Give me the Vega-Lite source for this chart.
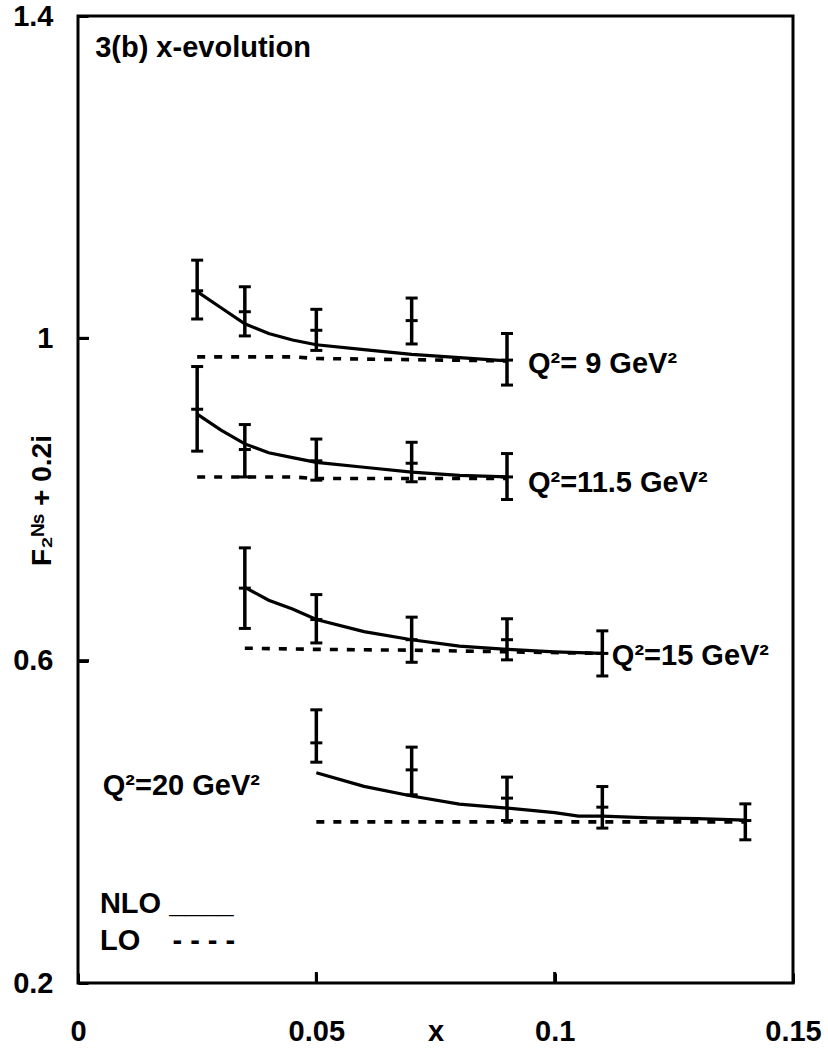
{
  "$schema": "https://vega.github.io/schema/vega-lite/v6.json",
  "width": 715,
  "height": 967,
  "autosize": {"type": "none"},
  "padding": {"left": 78, "top": 16, "right": 35, "bottom": 68},
  "background": "white",
  "config": {
    "view": {"stroke": "black", "strokeWidth": 3},
    "font": "Liberation Sans",
    "axis": {"grid": false, "domain": false, "labelColor": "black", "titleColor": "black", "tickColor": "black", "zindex": 1}
  },
  "datasets": {
    "pts": [
      {"q": "9", "x": 0.025, "y": 1.059, "lo": 1.024, "hi": 1.097},
      {"q": "9", "x": 0.035, "y": 1.033, "lo": 1.003, "hi": 1.064},
      {"q": "9", "x": 0.05, "y": 1.010, "lo": 0.985, "hi": 1.036},
      {"q": "9", "x": 0.07, "y": 1.022, "lo": 0.993, "hi": 1.050},
      {"q": "9", "x": 0.09, "y": 0.973, "lo": 0.942, "hi": 1.006},
      {"q": "11.5", "x": 0.025, "y": 0.912, "lo": 0.860, "hi": 0.965},
      {"q": "11.5", "x": 0.035, "y": 0.862, "lo": 0.828, "hi": 0.893},
      {"q": "11.5", "x": 0.05, "y": 0.848, "lo": 0.824, "hi": 0.875},
      {"q": "11.5", "x": 0.07, "y": 0.845, "lo": 0.822, "hi": 0.871},
      {"q": "11.5", "x": 0.09, "y": 0.828, "lo": 0.800, "hi": 0.857},
      {"q": "15", "x": 0.035, "y": 0.690, "lo": 0.640, "hi": 0.740},
      {"q": "15", "x": 0.05, "y": 0.651, "lo": 0.622, "hi": 0.682},
      {"q": "15", "x": 0.07, "y": 0.626, "lo": 0.598, "hi": 0.654},
      {"q": "15", "x": 0.09, "y": 0.626, "lo": 0.601, "hi": 0.652},
      {"q": "15", "x": 0.11, "y": 0.609, "lo": 0.581, "hi": 0.637},
      {"q": "20", "x": 0.05, "y": 0.498, "lo": 0.474, "hi": 0.539},
      {"q": "20", "x": 0.07, "y": 0.4645, "lo": 0.4335, "hi": 0.4927},
      {"q": "20", "x": 0.09, "y": 0.4294, "lo": 0.4016, "hi": 0.4555},
      {"q": "20", "x": 0.11, "y": 0.4182, "lo": 0.3922, "hi": 0.4438},
      {"q": "20", "x": 0.14, "y": 0.4016, "lo": 0.3777, "hi": 0.4223}
    ],
    "nlo": [
      {"q": "9", "x": 0.025, "y": 1.058},
      {"q": "9", "x": 0.03, "y": 1.038},
      {"q": "9", "x": 0.035, "y": 1.018},
      {"q": "9", "x": 0.04, "y": 1.006},
      {"q": "9", "x": 0.045, "y": 0.998},
      {"q": "9", "x": 0.05, "y": 0.992},
      {"q": "9", "x": 0.06, "y": 0.986},
      {"q": "9", "x": 0.07, "y": 0.980},
      {"q": "9", "x": 0.08, "y": 0.976},
      {"q": "9", "x": 0.09, "y": 0.972},
      {"q": "11.5", "x": 0.025, "y": 0.906},
      {"q": "11.5", "x": 0.03, "y": 0.886},
      {"q": "11.5", "x": 0.035, "y": 0.869},
      {"q": "11.5", "x": 0.04, "y": 0.858},
      {"q": "11.5", "x": 0.045, "y": 0.852},
      {"q": "11.5", "x": 0.05, "y": 0.846},
      {"q": "11.5", "x": 0.06, "y": 0.840},
      {"q": "11.5", "x": 0.07, "y": 0.834},
      {"q": "11.5", "x": 0.08, "y": 0.830},
      {"q": "11.5", "x": 0.09, "y": 0.828},
      {"q": "15", "x": 0.035, "y": 0.691},
      {"q": "15", "x": 0.04, "y": 0.675},
      {"q": "15", "x": 0.045, "y": 0.664},
      {"q": "15", "x": 0.05, "y": 0.651},
      {"q": "15", "x": 0.06, "y": 0.636},
      {"q": "15", "x": 0.07, "y": 0.626},
      {"q": "15", "x": 0.08, "y": 0.618},
      {"q": "15", "x": 0.09, "y": 0.614},
      {"q": "15", "x": 0.1, "y": 0.611},
      {"q": "15", "x": 0.11, "y": 0.609},
      {"q": "20", "x": 0.05, "y": 0.461},
      {"q": "20", "x": 0.06, "y": 0.444},
      {"q": "20", "x": 0.07, "y": 0.432},
      {"q": "20", "x": 0.08, "y": 0.422},
      {"q": "20", "x": 0.09, "y": 0.417},
      {"q": "20", "x": 0.1, "y": 0.4115},
      {"q": "20", "x": 0.105, "y": 0.407},
      {"q": "20", "x": 0.11, "y": 0.407},
      {"q": "20", "x": 0.12, "y": 0.405},
      {"q": "20", "x": 0.13, "y": 0.404},
      {"q": "20", "x": 0.14, "y": 0.402}
    ],
    "lo": [
      {"q": "9", "x": 0.025, "y": 0.977},
      {"q": "9", "x": 0.045, "y": 0.977},
      {"q": "9", "x": 0.05, "y": 0.975},
      {"q": "9", "x": 0.09, "y": 0.972},
      {"q": "11.5", "x": 0.025, "y": 0.828},
      {"q": "11.5", "x": 0.045, "y": 0.828},
      {"q": "11.5", "x": 0.05, "y": 0.826},
      {"q": "11.5", "x": 0.09, "y": 0.826},
      {"q": "15", "x": 0.035, "y": 0.6155},
      {"q": "15", "x": 0.05, "y": 0.614},
      {"q": "15", "x": 0.07, "y": 0.613},
      {"q": "15", "x": 0.09, "y": 0.611},
      {"q": "15", "x": 0.11, "y": 0.609},
      {"q": "20", "x": 0.05, "y": 0.400},
      {"q": "20", "x": 0.14, "y": 0.400}
    ],
    "xticks": [
      {"x": 0.05, "y": 0.2},
      {"x": 0.1, "y": 0.2}
    ],
    "yticks": [
      {"x": 0, "y": 0.6},
      {"x": 0, "y": 1}
    ],
    "labels": [
      {"x": 0.0036, "y": 1.349, "text": "3(b) x-evolution"},
      {"x": 0.0944, "y": 0.957, "text": "Q²= 9 GeV²"},
      {"x": 0.0944, "y": 0.8094, "text": "Q²=11.5 GeV²"},
      {"x": 0.112, "y": 0.5948, "text": "Q²=15 GeV²"},
      {"x": 0.0052, "y": 0.4335, "text": "Q²=20 GeV²"},
      {"x": 0.0046, "y": 0.287, "text": "NLO ____"},
      {"x": 0.0046, "y": 0.2412, "text": "LO\u00a0\u00a0\u00a0\u00a0- - - -"}
    ]
  },
  "layer": [
    {
      "data": {"name": "pts"},
      "mark": {"type": "rule", "strokeWidth": 3.5, "color": "black"},
      "encoding": {
        "x": {
          "field": "x", "type": "quantitative",
          "scale": {"domain": [0, 0.15], "nice": false, "zero": false},
          "axis": {
            "values": [0, 0.05, 0.1, 0.15], "format": "~g", "title": "x",
            "titleY": 57, "titleBaseline": "alphabetic",
            "titleFontSize": 29, "titleFontWeight": "bold",
            "labelFontSize": 29, "labelFontWeight": "bold",
            "labelFlush": false, "labelOverlap": false, "labelBound": false,
            "labelPadding": 44, "tickSize": -10, "tickWidth": 3
          }
        },
        "y": {
          "field": "lo", "type": "quantitative",
          "scale": {"domain": [0.2, 1.4], "nice": false, "zero": false},
          "axis": {
            "values": [0.2, 0.6, 1, 1.4], "format": "~g", "title": "F₂ᴺˢ + 0.2i",
            "titleX": -28, "titleY": 484, "titleAngle": -90,
            "titleBaseline": "alphabetic", "titleAlign": "center",
            "titleFontSize": 28, "titleFontWeight": "bold",
            "labelFontSize": 29, "labelFontWeight": "bold",
            "labelOverlap": false, "labelBound": false, "labelFlush": false,
            "labelPadding": 35, "tickSize": -10, "tickWidth": 3
          }
        },
        "y2": {"field": "hi"}
      }
    },
    {
      "data": {"name": "xticks"},
      "mark": {"type": "tick", "orient": "vertical", "size": 22, "thickness": 3, "color": "black", "opacity": 1, "clip": true},
      "encoding": {
        "x": {"field": "x", "type": "quantitative"},
        "y": {"field": "y", "type": "quantitative"}
      }
    },
    {
      "data": {"name": "yticks"},
      "mark": {"type": "tick", "orient": "horizontal", "size": 22, "thickness": 3, "color": "black", "opacity": 1, "clip": true},
      "encoding": {
        "x": {"field": "x", "type": "quantitative"},
        "y": {"field": "y", "type": "quantitative"}
      }
    },
    {
      "data": {"name": "pts"},
      "transform": [{"fold": ["lo", "hi", "y"], "as": ["part", "val"]}],
      "mark": {"type": "tick", "orient": "horizontal", "size": 12, "thickness": 3, "color": "black", "opacity": 1},
      "encoding": {
        "x": {"field": "x", "type": "quantitative"},
        "y": {"field": "val", "type": "quantitative"}
      }
    },
    {
      "data": {"name": "nlo"},
      "mark": {"type": "line", "strokeWidth": 3.2, "color": "black"},
      "encoding": {
        "x": {"field": "x", "type": "quantitative"},
        "y": {"field": "y", "type": "quantitative"},
        "detail": {"field": "q"}
      }
    },
    {
      "data": {"name": "lo"},
      "mark": {"type": "line", "strokeWidth": 3.6, "color": "black", "strokeDash": [8, 9]},
      "encoding": {
        "x": {"field": "x", "type": "quantitative"},
        "y": {"field": "y", "type": "quantitative"},
        "detail": {"field": "q"}
      }
    },
    {
      "data": {"name": "labels"},
      "mark": {"type": "text", "align": "left", "baseline": "alphabetic", "fontSize": 29, "fontWeight": "bold", "color": "black", "font": "Liberation Sans"},
      "encoding": {
        "x": {"field": "x", "type": "quantitative"},
        "y": {"field": "y", "type": "quantitative"},
        "text": {"field": "text"}
      }
    }
  ]
}
